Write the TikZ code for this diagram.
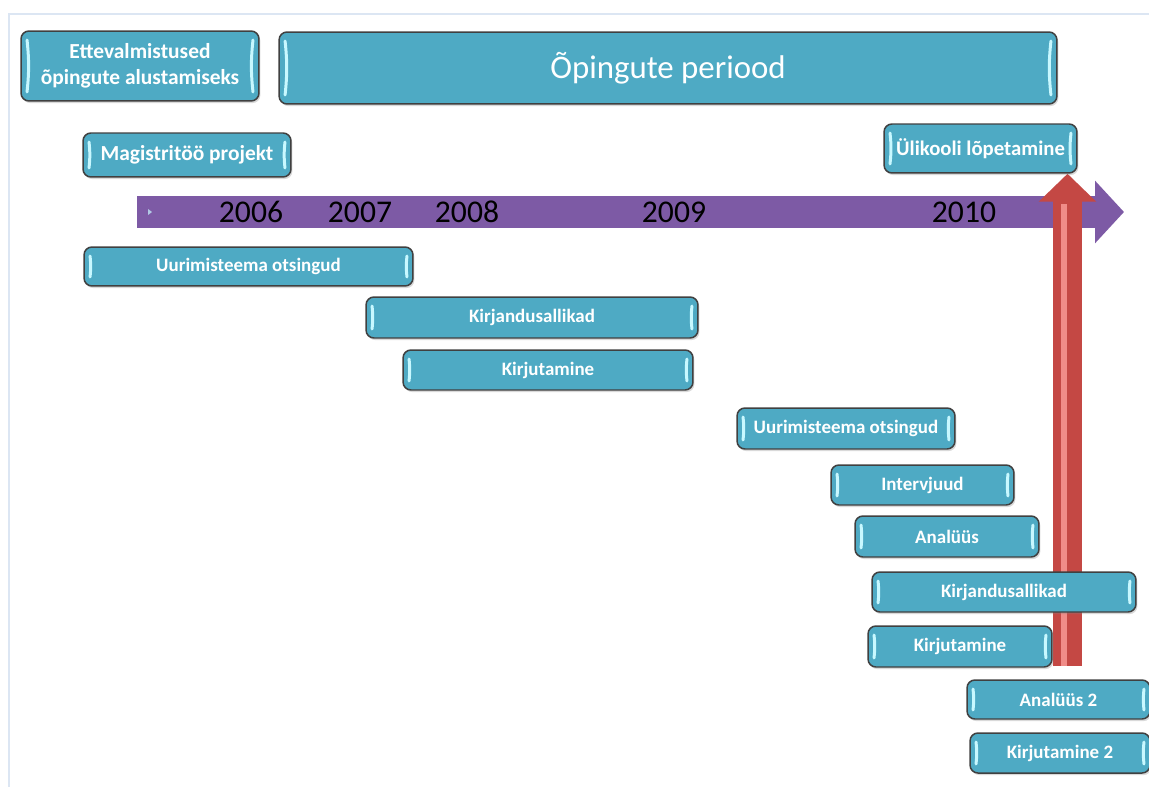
\documentclass[tikz,border=0pt]{standalone}
\usepackage{fontspec}
\setmainfont{Carlito}
\usetikzlibrary{arrows.meta,calc,shadows,backgrounds}

\definecolor{boxfill}{RGB}{78,170,196}
\definecolor{boxline}{RGB}{64,64,64}
\definecolor{glintc}{RGB}{200,248,255}
\definecolor{timec}{RGB}{125,90,165}
\definecolor{redc}{RGB}{196,72,68}
\definecolor{redlight}{RGB}{240,140,136}
\definecolor{framec}{RGB}{220,230,243}

\begin{document}
\begin{tikzpicture}[x=0.02cm,y=-0.02cm]
    \tikzstyle{glint} = [draw=glintc, line width=1.7pt, line cap=round]
    \tikzstyle{bar} = [draw=boxline, line width=0.85pt, fill=boxfill,
        rounded corners=4.5pt, text=white, inner sep=0pt,
        font=\bfseries\fontsize{10.8}{14}\selectfont,
        drop shadow={opacity=0.3, shadow xshift=0.8pt, shadow yshift=-1.2pt},
        path picture={
            \draw[glint] ($(path picture bounding box.north west)+(6,9)$) to[bend left=6] ($(path picture bounding box.south west)+(6,-9)$);
            \draw[glint] ($(path picture bounding box.north east)+(-6,9)$) to[bend right=6] ($(path picture bounding box.south east)+(-6,-9)$);
        }]
    \tikzstyle{head} = [font=\bfseries\fontsize{12.2}{14.5}\selectfont]
    \tikzstyle{year} = [font=\fontsize{18}{20}\selectfont, text=black, inner sep=0pt]

    \useasboundingbox (0,0) rectangle (1149,787);

    % phases
    \node[bar, head, minimum width=4.76cm, minimum height=1.40cm, align=center] (prep) at (140,66) {Ettevalmistused\\õpingute alustamiseks};
    \node[bar, minimum width=15.56cm, minimum height=1.44cm, font=\fontsize{18.7}{22}\selectfont] (period) at (668,68) {Õpingute periood};
    \node[bar, head, minimum width=4.16cm, minimum height=0.88cm] (project) at (187,155) {Magistritöö projekt};
    \node[bar, head, font=\bfseries\fontsize{11.8}{14}\selectfont, minimum width=3.86cm, minimum height=0.98cm] (finish) at (980.5,148.5) {Ülikooli lõpetamine};

    % timeline
    \coordinate (tlstart) at (137,212);
    \coordinate (tlend) at (1124,212);
    \node[year] (y2006) at (251,212) {2006};
    \node[year] (y2007) at (360,212) {2007};
    \node[year] (y2008) at (467,212) {2008};
    \node[year] (y2009) at (674,212) {2009};
    \node[year] (y2010) at (964,212) {2010};

    % tasks
    \node[bar, minimum width=6.58cm, minimum height=0.78cm] (topic1) at (248.5,266.5) {Uurimisteema otsingud};
    \node[bar, minimum width=6.64cm, minimum height=0.82cm] (sources1) at (532,317.5) {Kirjandusallikad};
    \node[bar, minimum width=5.80cm, minimum height=0.80cm] (writing1) at (548,370) {Kirjutamine};
    \node[bar, minimum width=4.36cm, minimum height=0.82cm] (topic2) at (846,428.5) {Uurimisteema otsingud};
    \node[bar, minimum width=3.66cm, minimum height=0.80cm] (interviews) at (922.5,485) {Intervjuud};
    \node[bar, minimum width=3.68cm, minimum height=0.82cm] (analysis1) at (947,536.5) {Analüüs};
    \node[bar, minimum width=5.28cm, minimum height=0.80cm] (sources2) at (1004,592) {Kirjandusallikad};
    \node[bar, minimum width=3.68cm, minimum height=0.82cm] (writing2) at (960,646.5) {Kirjutamine};
    \node[bar, minimum width=3.66cm, minimum height=0.78cm] (analysis2) at (1058.5,699.5) {Analüüs 2};
    \node[bar, minimum width=3.60cm, minimum height=0.80cm] (writing3) at (1060,753) {Kirjutamine 2};

    \coordinate (goal) at (1067.5,666);

    \begin{pgfonlayer}{background}
        \draw[framec, line width=1.2pt] (9,787) -- (9,14) -- (1149,14);
        \draw[timec, line width=0.64cm, -{Triangle[width=1.22cm,length=0.58cm]}] (tlstart) -- (tlend);
        \fill[glintc!70!timec] (148,209) -- (152,212) -- (148,215) -- cycle;
        \draw[redc, line width=0.58cm, -{Triangle[width=1.12cm,length=0.56cm]}] (goal) -- (goal |- finish.south);
        \draw[redlight, line width=0.12cm] ($(goal)+(-4,0)$) -- ($(goal |- finish.south)+(-4,30)$);
    \end{pgfonlayer}
\end{tikzpicture}
\end{document}
